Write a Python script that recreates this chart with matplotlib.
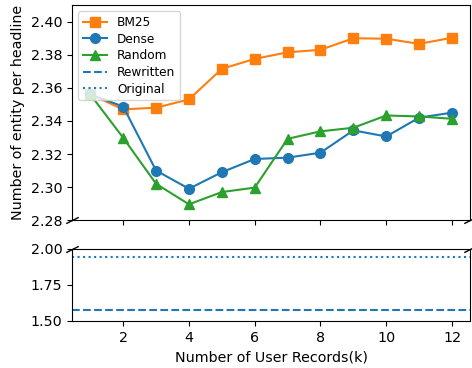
import matplotlib.pyplot as plt

plt.rcParams['font.size'] = 10.3

# number of user records (k)
k = [1, 2, 3, 4, 5, 6, 7, 8, 9, 10, 11, 12]

bm25 = [2.356, 2.347, 2.348, 2.353, 2.3715, 2.3775, 2.3815, 2.383, 2.390, 2.3897, 2.3866, 2.3903]
dense = [2.356, 2.3487, 2.310, 2.299, 2.309, 2.317, 2.3178, 2.3208, 2.3343, 2.3306, 2.342, 2.345]
random_ = [2.356, 2.3298, 2.302, 2.2896, 2.297, 2.2997, 2.3292, 2.3337, 2.3359, 2.3433, 2.3427, 2.3413]

rewritten = 1.575
original = 1.942

fig, (ax1, ax2) = plt.subplots(2, 1, sharex=True, figsize=(4.72, 3.68), dpi=100,
                               gridspec_kw={'height_ratios': [215, 72]})
fig.subplots_adjust(left=0.153, right=0.996, top=0.986, bottom=0.128, hspace=0.2)

ax1.plot(k, bm25, marker='s', color='C1', markersize=7, label='BM25')
ax1.plot(k, dense, marker='o', color='C0', markersize=7, label='Dense')
ax1.plot(k, random_, marker='^', color='C2', markersize=7, label='Random')
l1 = ax2.axhline(rewritten, color='C0', linestyle='--', label='Rewritten')
l2 = ax2.axhline(original, color='C0', linestyle=':', label='Original')

ax1.set_ylim(2.28, 2.41)
ax2.set_ylim(1.5, 2.0)
ax2.set_yticks([1.5, 1.75, 2.0])
ax1.tick_params(labelbottom=False)

# break marks
d = 0.5
kw = dict(marker=[(-1, -d), (1, d)], markersize=9, linestyle='none',
          color='k', mec='k', mew=1, clip_on=False)
ax1.plot([0, 1], [0, 0], transform=ax1.transAxes, **kw)
ax2.plot([0, 1], [1, 1], transform=ax2.transAxes, **kw)

h, l = ax1.get_legend_handles_labels()
ax1.legend(h + [l1, l2], l + ['Rewritten', 'Original'], loc='upper left',
           fontsize=8.7, labelspacing=0.3)

ax1.set_ylabel('Number of entity per headline')
ax1.yaxis.set_label_coords(-0.118, 0.5)
ax2.set_xlabel('Number of User Records(k)')

fig.savefig('out.png')
